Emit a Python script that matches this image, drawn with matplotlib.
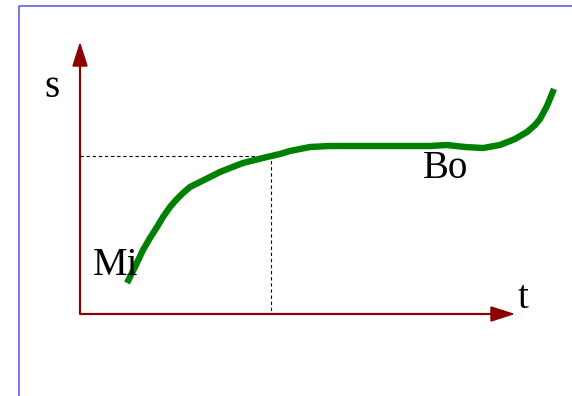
import matplotlib
matplotlib.use("Agg")
import matplotlib.pyplot as plt

# curve: time t vs distance s (units = pixels from the axis origin)
t_vals = [47, 55, 63, 70, 77, 83, 90, 96, 103, 110, 120, 130, 140, 150, 163,
          175, 187, 200, 210, 230, 250, 280, 320, 350, 367, 385, 403, 420,
          435, 447, 455, 460, 467, 474]
s_vals = [31, 47, 64, 76, 87, 97, 107, 114, 121, 127, 132, 137, 142, 146, 151,
          154, 157, 160, 163, 167, 168, 168, 168, 168, 169, 167, 166, 169,
          175, 182, 189, 195, 208, 225]

# marked point
t_mark, s_mark = 191, 158

labels = {"s": (-28, 217), "t": (438, 6), "Mi": (13, 39), "Bo": (343, 136)}

axis_col = "#8b0000"
frame_col = "#5b5bff"

fig = plt.figure(figsize=(5.72, 3.96), dpi=100)
ax = fig.add_axes([0, 0, 1, 1])
ax.set_xlim(-80, 492)
ax.set_ylim(-82, 314)
ax.axis("off")

# blue frame on left / top
ax.plot([-61, -61, 492], [-82, 308, 308], color=frame_col, lw=1.2)

# axes arrows
ax.arrow(0, 0, 0, 270, width=0.8, head_width=14, head_length=22,
         length_includes_head=True, color=axis_col)
ax.arrow(0, 0, 433, 0, width=0.8, head_width=14, head_length=22,
         length_includes_head=True, color=axis_col)

# dashed guides
ax.plot([0, t_mark, t_mark], [s_mark, s_mark, 0], color="black", lw=0.8,
        ls=(0, (3, 2.5)))

ax.plot(t_vals, s_vals, color="green", lw=4.6, solid_capstyle="butt",
        solid_joinstyle="round")

font = dict(family="Liberation Serif", fontsize=28, color="black")
ax.text(*labels["s"], "s", ha="center", va="baseline", **font)
ax.text(*labels["t"], "t", ha="left", va="baseline", **font)
ax.text(*labels["Mi"], "Mi", ha="left", va="baseline", **font)
ax.text(*labels["Bo"], "Bo", ha="left", va="baseline", **font)

fig.savefig("out.png", dpi=100)
